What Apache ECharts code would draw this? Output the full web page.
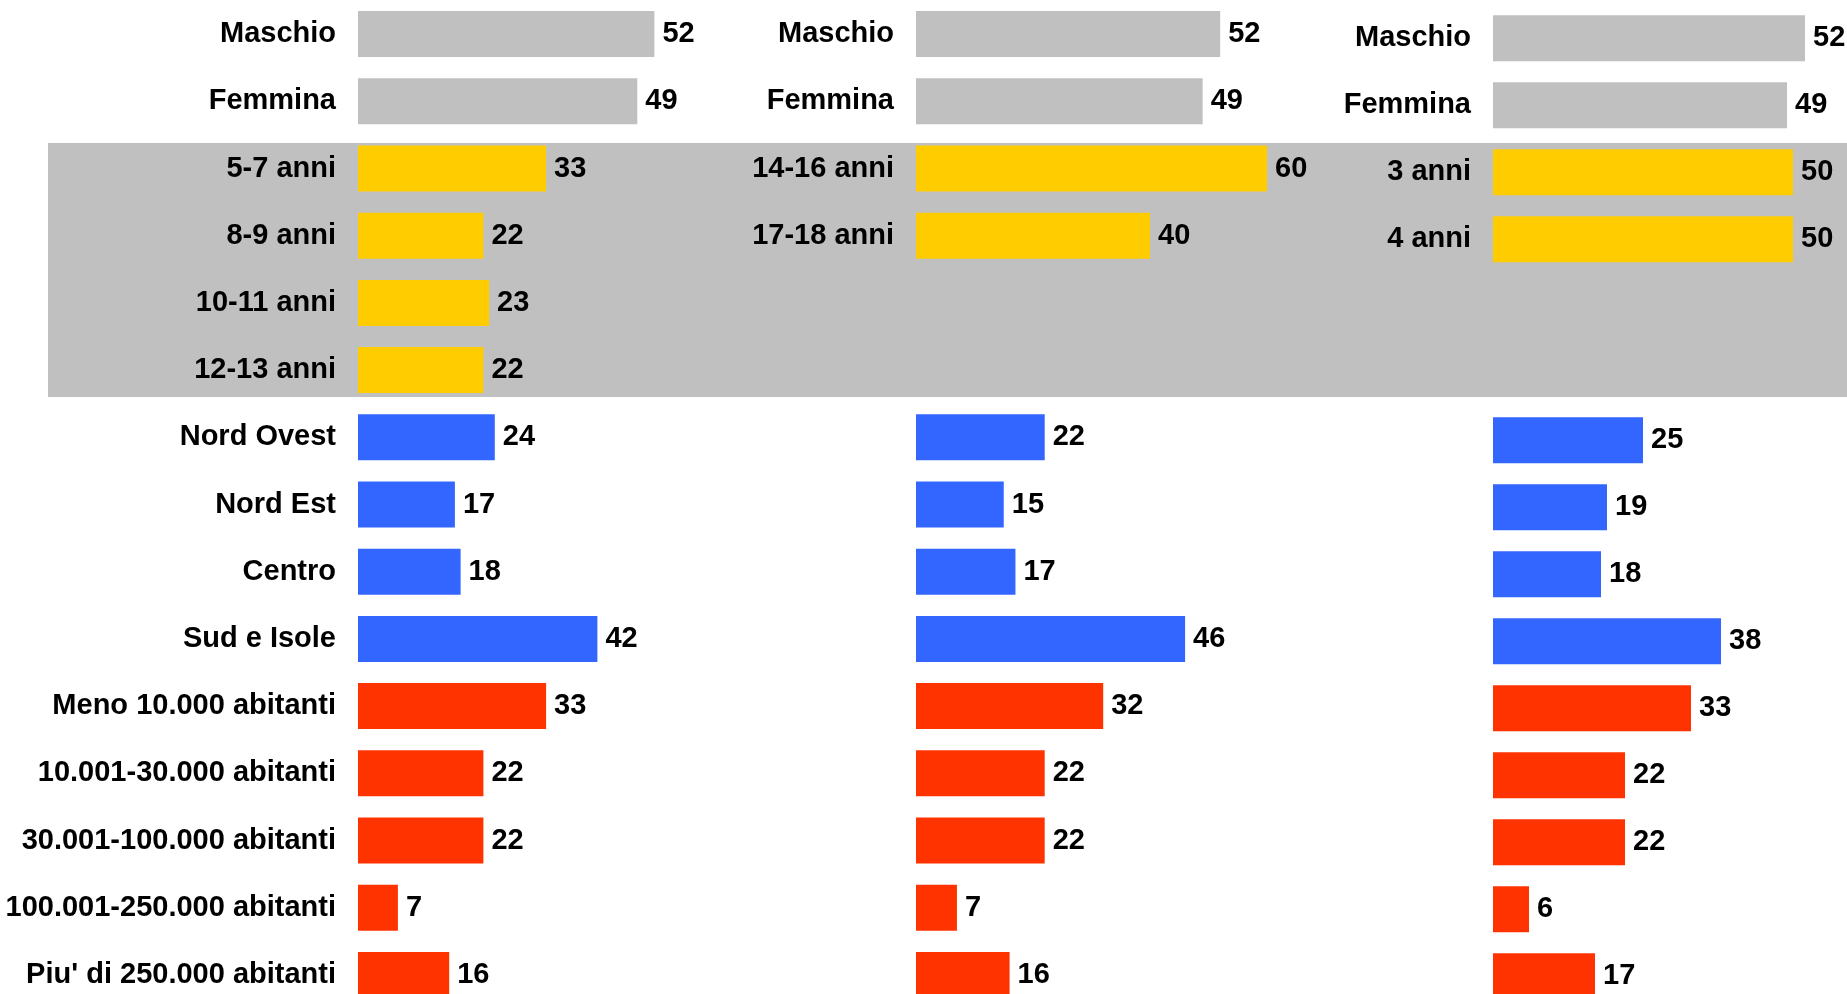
<!DOCTYPE html>
<html lang="it">
<head>
    <meta charset="UTF-8">
    <script src="https://cdn.jsdelivr.net/npm/echarts@6/dist/echarts.min.js"></script>
    <title>Profilo del campione</title>
    <style>
        html, body { margin: 0; padding: 0; background: #fff; overflow: hidden; }
    </style>
</head>
<body>
<!-- il contenitore e' piu' grande della finestra: le ultime righe escono dal bordo come nell'originale -->
<div id="main" style="width: 2100px;height:1020px;"></div>
<script type="text/javascript">

    // categorie dei tre pannelli (righe vuote = spazi)
    var categorieSx = ['Maschio', 'Femmina', '5-7 anni', '8-9 anni', '10-11 anni', '12-13 anni',
        'Nord Ovest', 'Nord Est', 'Centro', 'Sud e Isole',
        'Meno 10.000 abitanti', '10.001-30.000 abitanti', '30.001-100.000 abitanti',
        '100.001-250.000 abitanti', "Piu' di 250.000 abitanti"];
    var categorieCentro = ['Maschio', 'Femmina', '14-16 anni', '17-18 anni', ' ', '  ',
        'Nord Ovest', 'Nord Est', 'Centro', 'Sud e Isole',
        'Meno 10.000 abitanti', '10.001-30.000 abitanti', '30.001-100.000 abitanti',
        '100.001-250.000 abitanti', "Piu' di 250.000 abitanti"];
    var categorieDx = ['Maschio', 'Femmina', '3 anni', '4 anni', ' ', '  ',
        'Nord Ovest', 'Nord Est', 'Centro', 'Sud e Isole',
        'Meno 10.000 abitanti', '10.001-30.000 abitanti', '30.001-100.000 abitanti',
        '100.001-250.000 abitanti', "Piu' di 250.000 abitanti"];

    // valori (%)
    var valoriSx = [52, 49, 33, 22, 23, 22, 24, 17, 18, 42, 33, 22, 22, 7, 16];
    var valoriCentro = [52, 49, 60, 40, null, null, 22, 15, 17, 46, 32, 22, 22, 7, 16];
    var valoriDx = [52, 49, 50, 50, null, null, 25, 19, 18, 38, 33, 22, 22, 6, 17];

    // gruppo di ogni riga
    var gruppi = ['sesso', 'sesso', 'eta', 'eta', 'eta', 'eta',
        'area', 'area', 'area', 'area',
        'ampiezza', 'ampiezza', 'ampiezza', 'ampiezza', 'ampiezza'];

    var colori = {sesso: '#c0c0c0', eta: '#ffcc00', area: '#3366ff', ampiezza: '#ff3300'};
    var font = 'Liberation Sans, Arial, sans-serif';

    var myChart = echarts.init(document.getElementById('main'));

    var grids = [
        {left: 358, top: 0.5, width: 570, height: 1008},
        {left: 916, top: 0.5, width: 585, height: 1008},
        {left: 1493, top: 4.8, width: 600, height: 1005}
    ];
    var elenchi = [categorieSx, categorieCentro, categorieDx];
    var valori = [valoriSx, valoriCentro, valoriDx];
    // nei pannelli centrale e destro le etichette ci sono solo nelle prime righe
    var righeConEtichetta = [15, 4, 4];

    var xAxes = [], yAxes = [], series = [];
    for (var i = 0; i < 3; i++) {
        (function (i) {
            xAxes.push({gridIndex: i, type: 'value', min: 0, max: 100, show: false});
            yAxes.push({
                gridIndex: i,
                type: 'category',
                inverse: true,
                data: elenchi[i],
                axisLine: {show: false},
                axisTick: {show: false},
                splitLine: {show: false},
                axisLabel: {
                    margin: 22,
                    color: '#000',
                    fontFamily: font,
                    fontWeight: 'bold',
                    fontSize: 29,
                    interval: 0,
                    formatter: function (value, idx) {
                        return idx < righeConEtichetta[i] ? value : '';
                    }
                }
            });
            series.push({
                type: 'bar',
                xAxisIndex: i,
                yAxisIndex: i,
                barWidth: 46,
                data: valori[i].map(function (v, k) {
                    return {value: v, itemStyle: {color: colori[gruppi[k]]}};
                }),
                label: {
                    show: true,
                    position: 'right',
                    distance: 8,
                    color: '#000',
                    fontFamily: font,
                    fontWeight: 'bold',
                    fontSize: 29
                }
            });
        })(i);
    }

    var option = {
        backgroundColor: '#fff',
        animation: false,
        grid: grids,
        xAxis: xAxes,
        yAxis: yAxes,
        series: series
    };

    myChart.setOption(option);

    // fascia grigia dietro le righe delle eta'
    var yA = myChart.convertToPixel({yAxisIndex: 0}, categorieSx[0]);
    var yB = myChart.convertToPixel({yAxisIndex: 0}, categorieSx[1]);
    var passo = yB - yA;
    var yTop = myChart.convertToPixel({yAxisIndex: 0}, '5-7 anni') - 0.38 * passo;
    var yBot = myChart.convertToPixel({yAxisIndex: 0}, '12-13 anni') + 0.40 * passo;

    myChart.setOption({
        graphic: [{
            type: 'rect',
            z: -1,
            silent: true,
            shape: {x: 48, y: yTop, width: 2100 - 48, height: yBot - yTop},
            style: {fill: '#c0c0c0'}
        }]
    });

</script>
</body>
</html>
